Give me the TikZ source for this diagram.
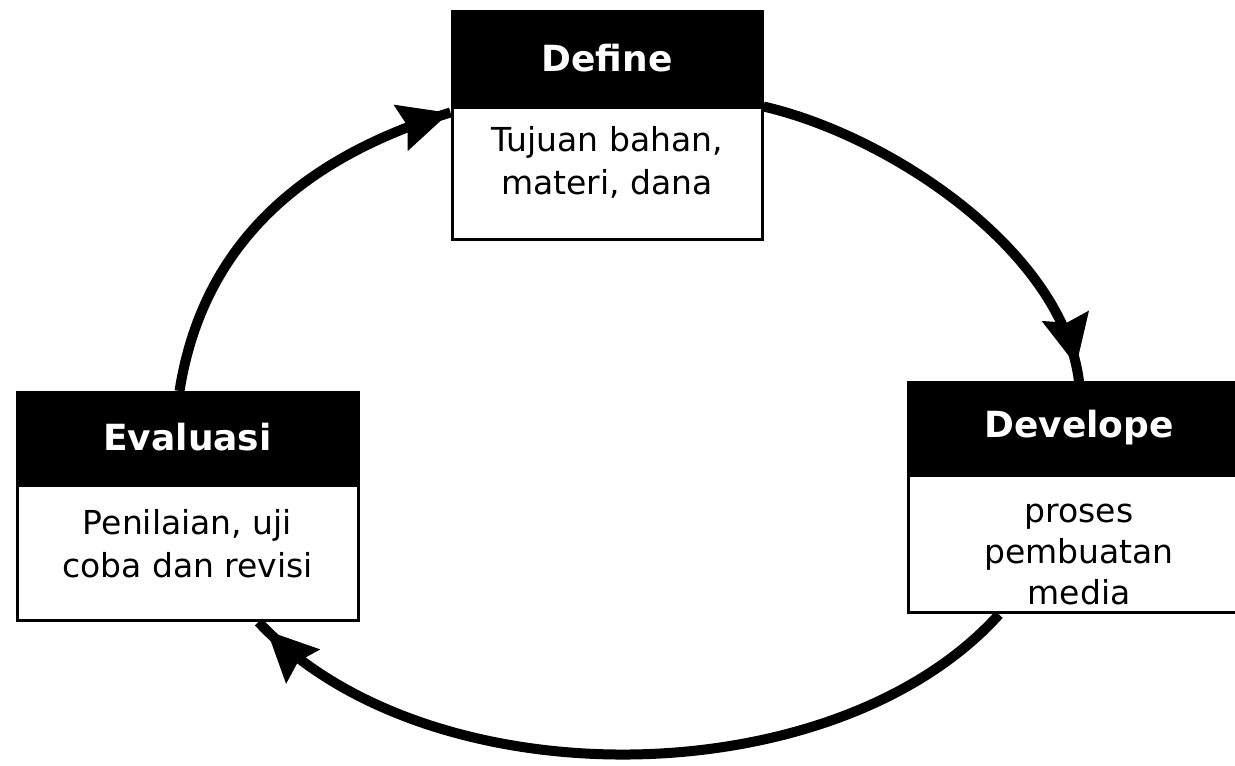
\documentclass[tikz,border=0pt]{standalone}
\usepackage{fontspec}
\setmainfont{DejaVu Sans}
\usetikzlibrary{positioning,arrows.meta,decorations.markings}

\tikzset{
  >={Stealth[length=25pt,width=23pt,inset=3pt]},
  head/.style={fill=black, draw=black, line width=1.5pt, text=white,
    font=\bfseries\fontsize{18}{22}\selectfont, inner sep=0pt,
    minimum width=170.5pt, minimum height=45pt},
  body/.style={draw=black, fill=white, line width=1.5pt, inner sep=0pt,
    minimum width=170.5pt, minimum height=67.5pt},
  txt/.style={align=center, inner sep=0pt, font=\fontsize{16.5}{21.5}\selectfont},
  flow/.style={line width=5pt, postaction={decorate,
    decoration={markings, mark=at position -#1 with {\arrow{>}}}}},
  flow/.default=0.5pt
}

\begin{document}
\begin{tikzpicture}[x=0.5pt,y=0.5pt]
  \useasboundingbox (0,0) rectangle (1235,765);

  \node[head, minimum width=155pt, minimum height=46.5pt] (defhead) at (607,706.5) {Define};
  \node[body, minimum width=155pt, minimum height=66pt, below=0pt of defhead] (defbody) {};
  \node[txt] (deftext) at ([yshift=6pt]defbody.center) {Tujuan bahan,\\materi, dana};

  \node[head] (devhead) at (1079,337) {Develope};
  \node[body, minimum height=68.5pt, below=0pt of devhead] (devbody) {};
  \node[txt, font=\fontsize{16.5}{20.5}\selectfont] (devtext) at ([yshift=-5pt]devbody.center)
    {proses\\pembuatan\\media};

  \node[head] (evalhead) at (187.5,327.5) {Evaluasi};
  \node[body, below=0pt of evalhead] (evalbody) {};
  \node[txt] (evaltext) at ([yshift=4.5pt]evalbody.center) {Penilaian, uji\\coba dan revisi};

  \draw[flow] ([xshift=-4pt]evalhead.north) to[out=81,in=197] ([yshift=-3pt]defbody.north west);
  \draw[flow=8pt] (defhead.south east) to[out=-13,in=97,looseness=0.8] (devhead.north);
  \draw[flow=6pt] ([xshift=-40pt]devbody.south) to[out=228,in=313,looseness=0.85] ([xshift=35.5pt]evalbody.south);

\end{tikzpicture}
\end{document}
